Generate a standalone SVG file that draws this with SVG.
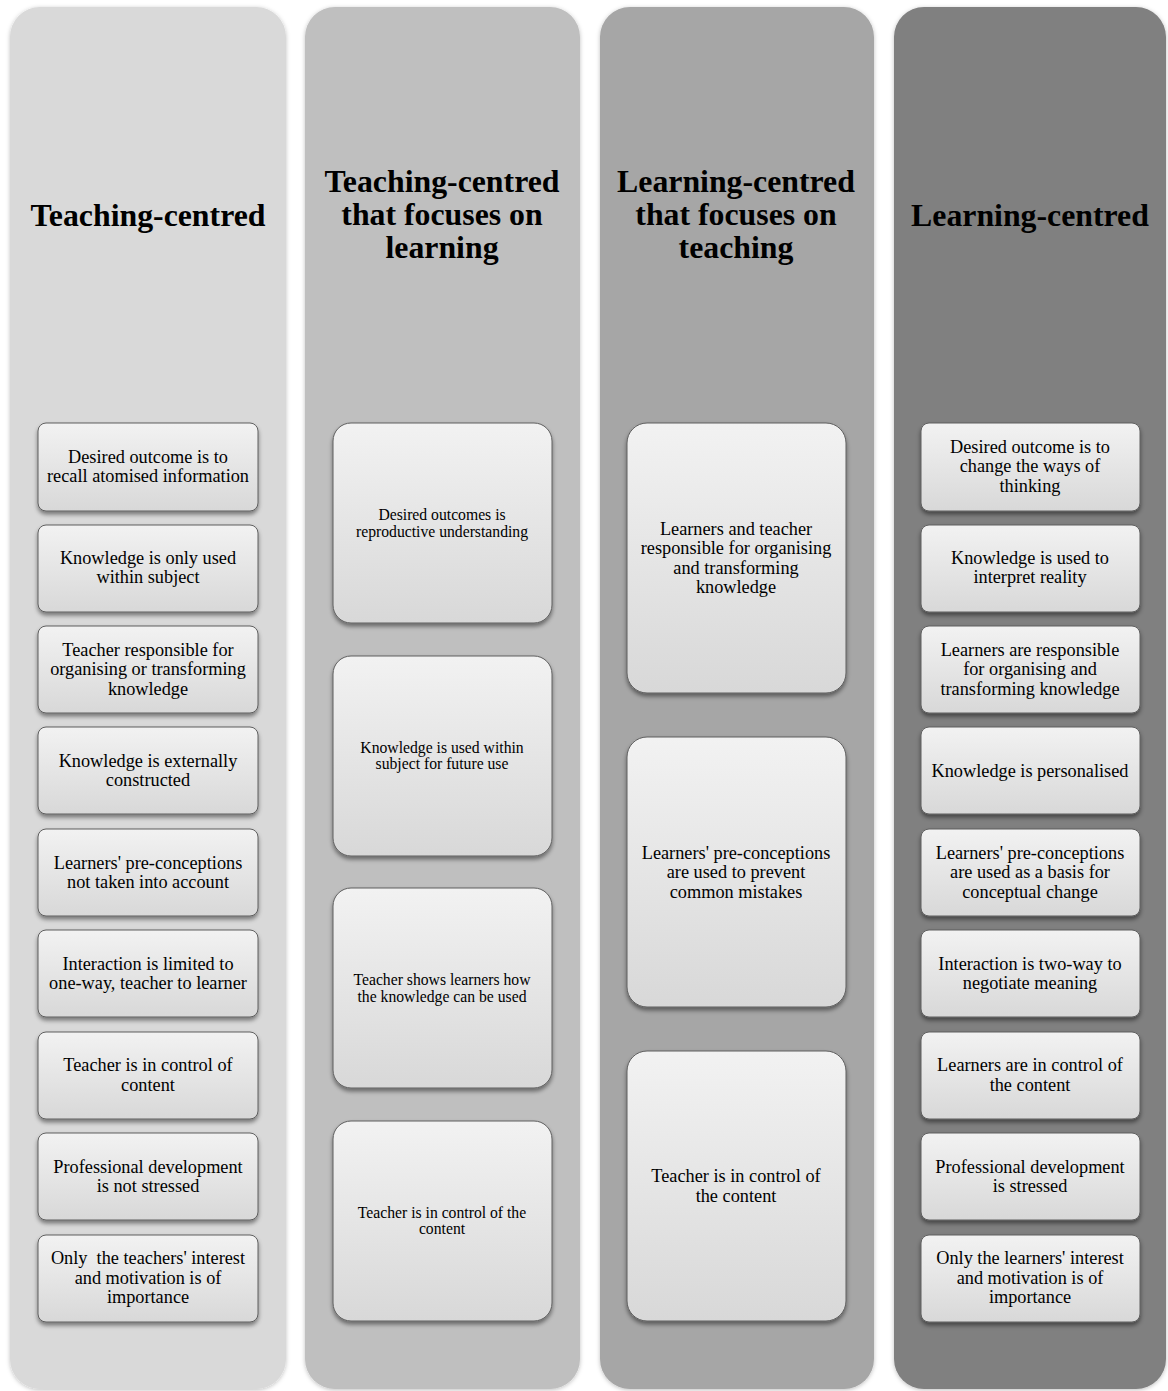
<svg xmlns="http://www.w3.org/2000/svg" width="1168" height="1391" viewBox="0 0 1168 1391">
<defs>
<linearGradient id="bg" x1="0" y1="0" x2="0" y2="1">
<stop offset="0" stop-color="#f2f2f2"/>
<stop offset="1" stop-color="#d8d8d8"/>
</linearGradient>
<filter id="sh" x="-10%" y="-10%" width="120%" height="130%">
<feDropShadow dx="0" dy="3" stdDeviation="2" flood-color="#000" flood-opacity="0.45"/>
</filter>
<filter id="csh" x="-10%" y="-5%" width="120%" height="110%">
<feDropShadow dx="0" dy="1" stdDeviation="2" flood-color="#000" flood-opacity="0.25"/>
</filter>
</defs>
<style>
.col{filter:url(#csh);}
.box{fill:url(#bg);stroke:#5e5e5e;stroke-width:1;filter:url(#sh);}
.title{font-family:"Liberation Serif","Times New Roman",serif;font-weight:bold;font-size:31.8px;fill:#000;text-anchor:middle;}
.t{font-family:"Liberation Serif","Times New Roman",serif;font-size:18.3px;fill:#000;text-anchor:middle;}
.s{font-family:"Liberation Serif","Times New Roman",serif;font-size:15.7px;fill:#000;text-anchor:middle;}
</style>
<rect width="1168" height="1391" fill="#ffffff"/>

<g id="column1">
<rect class="col" x="10" y="7" width="276" height="1382" rx="30" fill="#d9d9d9"/>
<text class="title" x="148" y="226">Teaching-centred</text>
</g>
<g id="column2">
<rect class="col" x="305" y="7" width="275" height="1382" rx="30" fill="#bfbfbf"/>
<text class="title" x="442" y="192">Teaching-centred</text>
<text class="title" x="442" y="225">that focuses on</text>
<text class="title" x="442" y="258">learning</text>
</g>
<g id="column3">
<rect class="col" x="600" y="7" width="274" height="1382" rx="30" fill="#a6a6a6"/>
<text class="title" x="736" y="192">Learning-centred</text>
<text class="title" x="736" y="225">that focuses on</text>
<text class="title" x="736" y="258">teaching</text>
</g>
<g id="column4">
<rect class="col" x="894" y="7" width="272" height="1382" rx="30" fill="#808080"/>
<text class="title" x="1030" y="226">Learning-centred</text>
</g>

<g id="connectors"></g>

<!-- Column 1 boxes -->
<g id="c1b1"><rect class="box" x="38" y="423" width="220" height="88" rx="8"/>
<text class="t" x="148" y="463">Desired outcome is to</text><text class="t" x="148" y="482">recall atomised information</text></g>
<g id="c1b2"><rect class="box" x="38" y="525" width="220" height="87" rx="8"/>
<text class="t" x="148" y="564">Knowledge is only used</text><text class="t" x="148" y="583">within subject</text></g>
<g id="c1b3"><rect class="box" x="38" y="626" width="220" height="87" rx="8"/>
<text class="t" x="148" y="656">Teacher responsible for</text><text class="t" x="148" y="675">organising or transforming</text><text class="t" x="148" y="695">knowledge</text></g>
<g id="c1b4"><rect class="box" x="38" y="727" width="220" height="87" rx="8"/>
<text class="t" x="148" y="767">Knowledge is externally</text><text class="t" x="148" y="786">constructed</text></g>
<g id="c1b5"><rect class="box" x="38" y="829" width="220" height="87" rx="8"/>
<text class="t" x="148" y="869">Learners' pre-conceptions</text><text class="t" x="148" y="888">not taken into account</text></g>
<g id="c1b6"><rect class="box" x="38" y="930" width="220" height="87" rx="8"/>
<text class="t" x="148" y="970">Interaction is limited to</text><text class="t" x="148" y="989">one-way, teacher to learner</text></g>
<g id="c1b7"><rect class="box" x="38" y="1032" width="220" height="87" rx="8"/>
<text class="t" x="148" y="1071">Teacher is in control of</text><text class="t" x="148" y="1091">content</text></g>
<g id="c1b8"><rect class="box" x="38" y="1133" width="220" height="87" rx="8"/>
<text class="t" x="148" y="1173">Professional development</text><text class="t" x="148" y="1192">is not stressed</text></g>
<g id="c1b9"><rect class="box" x="38" y="1235" width="220" height="87" rx="8"/>
<text class="t" x="148" y="1264" xml:space="preserve">Only  the teachers' interest</text><text class="t" x="148" y="1284">and motivation is of</text><text class="t" x="148" y="1303">importance</text></g>

<!-- Column 2 boxes -->
<g id="c2b1"><rect class="box" x="333" y="423" width="219" height="200" rx="18"/>
<text class="s" x="442" y="520">Desired outcomes is</text><text class="s" x="442" y="537">reproductive understanding</text></g>
<g id="c2b2"><rect class="box" x="333" y="656" width="219" height="200" rx="18"/>
<text class="s" x="442" y="753">Knowledge is used within</text><text class="s" x="442" y="769">subject for future use</text></g>
<g id="c2b3"><rect class="box" x="333" y="888" width="219" height="200" rx="18"/>
<text class="s" x="442" y="985">Teacher shows learners how</text><text class="s" x="442" y="1002">the knowledge can be used</text></g>
<g id="c2b4"><rect class="box" x="333" y="1121" width="219" height="200" rx="18"/>
<text class="s" x="442" y="1218">Teacher is in control of the</text><text class="s" x="442" y="1234">content</text></g>

<!-- Column 3 boxes -->
<g id="c3b1"><rect class="box" x="627" y="423" width="219" height="270" rx="20"/>
<text class="t" x="736" y="535">Learners and teacher</text><text class="t" x="736" y="554">responsible for organising</text><text class="t" x="736" y="574">and transforming</text><text class="t" x="736" y="593">knowledge</text></g>
<g id="c3b2"><rect class="box" x="627" y="737" width="219" height="270" rx="20"/>
<text class="t" x="736" y="859">Learners' pre-conceptions</text><text class="t" x="736" y="878">are used to prevent</text><text class="t" x="736" y="898">common mistakes</text></g>
<g id="c3b3"><rect class="box" x="627" y="1051" width="219" height="270" rx="20"/>
<text class="t" x="736" y="1182">Teacher is in control of</text><text class="t" x="736" y="1202">the content</text></g>

<!-- Column 4 boxes -->
<g id="c4b1"><rect class="box" x="921" y="423" width="219" height="88" rx="8"/>
<text class="t" x="1030" y="453">Desired outcome is to</text><text class="t" x="1030" y="472">change the ways of</text><text class="t" x="1030" y="492">thinking</text></g>
<g id="c4b2"><rect class="box" x="921" y="525" width="219" height="87" rx="8"/>
<text class="t" x="1030" y="564">Knowledge is used to</text><text class="t" x="1030" y="583">interpret reality</text></g>
<g id="c4b3"><rect class="box" x="921" y="626" width="219" height="87" rx="8"/>
<text class="t" x="1030" y="656">Learners are responsible</text><text class="t" x="1030" y="675">for organising and</text><text class="t" x="1030" y="695">transforming knowledge</text></g>
<g id="c4b4"><rect class="box" x="921" y="727" width="219" height="87" rx="8"/>
<text class="t" x="1030" y="777">Knowledge is personalised</text></g>
<g id="c4b5"><rect class="box" x="921" y="829" width="219" height="87" rx="8"/>
<text class="t" x="1030" y="859">Learners' pre-conceptions</text><text class="t" x="1030" y="878">are used as a basis for</text><text class="t" x="1030" y="898">conceptual change</text></g>
<g id="c4b6"><rect class="box" x="921" y="930" width="219" height="87" rx="8"/>
<text class="t" x="1030" y="970">Interaction is two-way to</text><text class="t" x="1030" y="989">negotiate meaning</text></g>
<g id="c4b7"><rect class="box" x="921" y="1032" width="219" height="87" rx="8"/>
<text class="t" x="1030" y="1071">Learners are in control of</text><text class="t" x="1030" y="1091">the content</text></g>
<g id="c4b8"><rect class="box" x="921" y="1133" width="219" height="87" rx="8"/>
<text class="t" x="1030" y="1173">Professional development</text><text class="t" x="1030" y="1192">is stressed</text></g>
<g id="c4b9"><rect class="box" x="921" y="1235" width="219" height="87" rx="8"/>
<text class="t" x="1030" y="1264">Only the learners' interest</text><text class="t" x="1030" y="1284">and motivation is of</text><text class="t" x="1030" y="1303">importance</text></g>
</svg>
